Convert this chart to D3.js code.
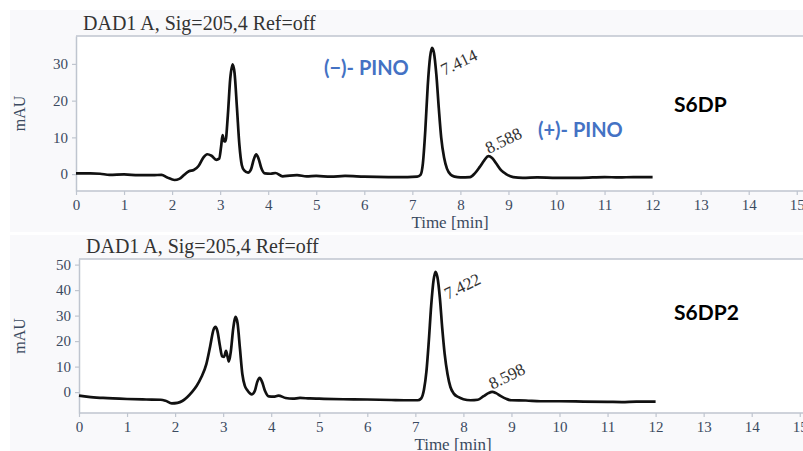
<!DOCTYPE html>
<html>
<head>
<meta charset="utf-8">
<script src="https://cdn.jsdelivr.net/npm/d3@7"></script>
<style>
  body { margin: 0; background: #fff; }
  svg { display: block; }
</style>
</head>
<body>
<div id="vis"></div>
<script>
// chromatogram S6DP (time in min, signal in mAU)
var timeA = [0, 0.3, 0.5, 0.7, 1.0, 1.3, 1.6, 1.78, 1.9, 2.05, 2.15, 2.25, 2.35, 2.45, 2.55, 2.65, 2.73, 2.82, 2.92, 2.98,
  3.02, 3.05, 3.08, 3.11, 3.16, 3.21, 3.26, 3.30, 3.35, 3.40, 3.45, 3.50, 3.58, 3.64, 3.70, 3.75, 3.80, 3.86, 3.93,
  4.05, 4.15, 4.3, 4.45, 4.6, 4.8, 5.0, 5.3, 5.6, 6.0, 6.5, 6.9, 7.1, 7.17, 7.22, 7.27, 7.32, 7.37, 7.41, 7.45,
  7.50, 7.55, 7.60, 7.66, 7.72, 7.80, 7.88, 8.0, 8.2, 8.3, 8.4, 8.5, 8.58, 8.66, 8.75, 8.85, 8.95, 9.1, 9.3, 9.6,
  10.0, 10.5, 11.0, 11.3, 11.6, 12.0];
var valueA = [0.2, 0.2, 0.1, -0.2, -0.1, -0.3, -0.3, -0.2, -0.9, -1.6, -1.3, -0.2, 0.8, 1.1, 2.2, 4.5, 5.4, 5.0, 3.9, 4.2,
  7.5, 10.6, 9.0, 8.9, 16, 26, 29.9, 27.5, 18, 8, 2.5, 1.0, 0.4, 1.2, 4.0, 5.4, 4.2, 1.5, 0.2,
  0.1, 0.3, -0.6, -0.4, -0.3, -0.6, -0.5, -0.7, -0.5, -0.7, -0.8, -0.8, -0.7, -0.2, 3, 12, 24, 32, 34.4, 33,
  27, 18, 10, 4.5, 1.5, -0.2, -0.7, -0.9, -0.8, 0.2, 1.9, 3.8, 4.9, 4.4, 2.8, 1.0, 0, -0.8, -1.0, -0.9,
  -1.0, -1.0, -0.8, -0.9, -0.8, -0.8];

// chromatogram S6DP2
var timeB = [0, 0.2, 0.5, 1.0, 1.4, 1.7, 1.8, 1.93, 2.05, 2.15, 2.25, 2.35, 2.45, 2.55, 2.65, 2.73, 2.80, 2.84, 2.88, 2.93,
  2.98, 3.02, 3.06, 3.09, 3.12, 3.16, 3.21, 3.26, 3.30, 3.35, 3.40, 3.45, 3.5, 3.6, 3.66, 3.71, 3.76, 3.81, 3.87, 3.95,
  4.05, 4.15, 4.3, 4.45, 4.6, 4.8, 5.0, 5.5, 6.0, 6.5, 6.9, 7.05, 7.12, 7.18, 7.23, 7.28, 7.33, 7.38, 7.42, 7.46,
  7.51, 7.56, 7.61, 7.67, 7.73, 7.80, 7.9, 8.0, 8.15, 8.3, 8.42, 8.52, 8.6, 8.68, 8.78, 8.9, 9.0, 9.3, 9.6,
  10.0, 10.5, 11.0, 11.3, 11.6, 12.0];
var valueB = [-1.4, -1.9, -2.3, -2.7, -2.9, -3.0, -3.4, -4.4, -4.2, -3.5, -2.0, 0, 2.5, 6, 11, 18, 24.5, 25.6, 24, 18.5,
  14, 13.8, 16.2, 14, 12, 16, 25, 29.5, 27, 17, 7, 2.5, 0.8, -0.9, 0.5, 4, 5.6, 4, 0.5, -1.7,
  -1.8, -1.4, -2.3, -2.6, -2.3, -2.5, -2.6, -2.8, -2.9, -3.1, -3.2, -3.2, -2.5, 1, 8, 20, 34, 44, 47.2, 45,
  37, 25, 15, 7, 2, -0.6, -2.0, -2.8, -3.2, -3.0, -1.6, -0.4, 0.1, -0.4, -1.6, -2.7, -3.2, -3.3, -3.6,
  -3.6, -3.7, -3.8, -3.9, -3.7, -3.7];

var peakTimesA = [7.414, 8.588];
var peakValuesA = [34.4, 4.9];
var peakTimesB = [7.422, 8.598];
var peakValuesB = [47.2, 0.1];

var xTicks = d3.range(0, 16);
var yTicksA = [0, 10, 20, 30];
var yTicksB = [0, 10, 20, 30, 40, 50];
var titleText = "DAD1 A, Sig=205,4 Ref=off";

var W = 803, H = 451;
var svg = d3.select("#vis").append("svg").attr("width", W).attr("height", H);

var axisCol = "#bfc5cf", tickCol = "#3b4a60", serif = "'Liberation Serif', 'DejaVu Serif', serif";

function drawPanel(opt){
    var g = svg.append("g");
    g.append("rect").attr("x", 10).attr("y", opt.bgTop).attr("width", W - 10).attr("height", opt.bgH)
        .attr("fill", "#f9f9fb");
    g.append("rect").attr("x", opt.left).attr("y", opt.top).attr("width", W - opt.left).attr("height", opt.bottom - opt.top)
        .attr("fill", "#fff");

    var x = d3.scaleLinear().domain([0, 15]).range([opt.left, opt.left + 15 * 48.05]);
    var y = d3.scaleLinear().domain(opt.yDomain).range([opt.bottom, opt.top]);

    // frame top line
    g.append("line").attr("x1", opt.left).attr("x2", W).attr("y1", opt.top).attr("y2", opt.top)
        .attr("stroke", axisCol).attr("stroke-width", 1.5);

    var xAxis = g.append("g").attr("transform", "translate(0," + opt.bottom + ")")
        .call(d3.axisBottom(x).tickValues(xTicks).tickSize(4).tickPadding(4).tickSizeOuter(0));
    xAxis.select(".domain").attr("d", "M" + opt.left + ",0H" + W);
    var yAxis = g.append("g").attr("transform", "translate(" + opt.left + ",0)")
        .call(d3.axisLeft(y).tickValues(opt.yTicks).tickSize(4).tickPadding(4).tickSizeOuter(0));
    [xAxis, yAxis].forEach(function(a){
        a.selectAll(".domain").attr("stroke", axisCol).attr("stroke-width", 1.5);
        a.selectAll(".tick line").attr("stroke", axisCol).attr("stroke-width", 1.2);
        a.selectAll(".tick text").attr("fill", tickCol).style("font-family", serif).style("font-size", "15px");
    });

    var line = d3.line().x(function(d){ return x(d[0]); }).y(function(d){ return y(d[1]); })
        .curve(d3.curveMonotoneX);
    g.append("path").datum(d3.zip(opt.times, opt.values))
        .attr("fill", "none").attr("stroke", "#111").attr("stroke-width", 2.7)
        .attr("stroke-linejoin", "round").attr("d", line);

    g.append("text").attr("x", opt.left + 7).attr("y", opt.top - 6).text(titleText)
        .style("font-family", serif).style("font-size", "20px").attr("fill", "#333");
    g.append("text").attr("transform", "translate(25," + ((opt.top + opt.bottom) / 2) + ") rotate(-90)")
        .attr("text-anchor", "middle").text("mAU")
        .style("font-family", serif).style("font-size", "16px").attr("fill", tickCol);
    g.append("text").attr("x", x(6.98)).attr("y", opt.bottom + 37).text("Time [min]")
        .style("font-family", serif).style("font-size", "17px").attr("fill", tickCol);

    // retention time labels
    opt.peakTimes.forEach(function(t, i){
        var v = opt.peakValues[i];
        var big = v > 20;
        var px = x(t) + (big ? 12 : 0), py = y(v) + (big ? 28 : -2);
        g.append("text").attr("transform", "translate(" + px + "," + py + ") rotate(-26)")
            .text(t.toFixed(3)).style("font-family", serif).style("font-size", "17px").attr("fill", "#333");
    });

    g.append("text").attr("x", 674).attr("y", opt.nameY).text(opt.name)
        .style("font-family", "Lato, 'Open Sans', sans-serif").style("font-weight", "bold")
        .style("font-size", "21px").attr("fill", "#000");
    return {x: x, y: y, g: g};
}

var top1 = drawPanel({bgTop: 10, bgH: 222, left: 76, top: 36, bottom: 191, yDomain: [-4.6, 37.6], yTicks: yTicksA,
    times: timeA, values: valueA, peakTimes: peakTimesA, peakValues: peakValuesA, name: "S6DP", nameY: 112});
drawPanel({bgTop: 235, bgH: 216, left: 79, top: 259, bottom: 413, yDomain: [-8.2, 52.2], yTicks: yTicksB,
    times: timeB, values: valueB, peakTimes: peakTimesB, peakValues: peakValuesB, name: "S6DP2", nameY: 320});

var pinoFont = "Lato, 'Open Sans', sans-serif";
top1.g.append("text").attr("x", 324).attr("y", 75).text("(\u2212)- PINO")
    .style("font-family", pinoFont).style("font-weight", "bold").style("font-size", "20px").attr("fill", "#4472c4");
top1.g.append("text").attr("x", 538).attr("y", 137).text("(+)- PINO")
    .style("font-family", pinoFont).style("font-weight", "bold").style("font-size", "20px").attr("fill", "#4472c4");
</script>
</body>
</html>
